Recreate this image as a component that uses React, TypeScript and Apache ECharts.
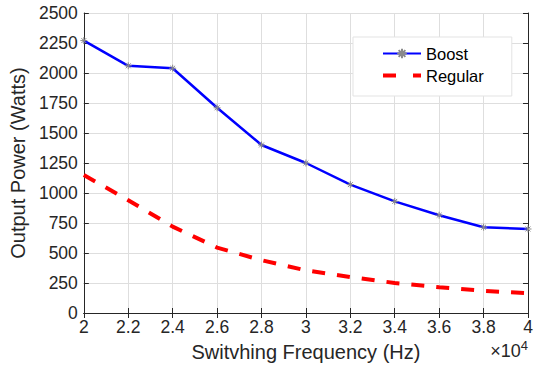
import React, { useEffect, useRef } from "react";
import * as echarts from "echarts";

const frequenciesHz = [20000, 22000, 24000, 26000, 28000, 30000, 32000, 34000, 36000, 38000, 40000];
const boostWatts = [2270, 2060, 2040, 1710, 1400, 1250, 1070, 930, 815, 715, 700];
const regularWatts = [1150, 940, 720, 545, 440, 355, 300, 250, 215, 185, 165];
const seriesNames = ["Boost", "Regular"];

const FONT = "'Liberation Sans', Arial, Helvetica, sans-serif";
const TXT = "#262626";
const ASTERISK = "path://M5,0L5,10M0,5L10,5M1.5,1.5L8.5,8.5M8.5,1.5L1.5,8.5";

export default function App() {
  const ref = useRef<HTMLDivElement>(null);
  useEffect(() => {
    if (!ref.current) return;
    const chart = echarts.init(ref.current, undefined, { renderer: "svg" });
    const toX = (hz: number) => hz / 1e4;
    const axisCommon = {
      type: "value" as const,
      axisLine: { show: true, lineStyle: { color: TXT, width: 1 } },
      axisTick: { show: true, inside: true, length: 5, lineStyle: { color: TXT } },
    };
    chart.setOption({
      animation: false,
      backgroundColor: "#ffffff",
      grid: { left: 80, right: 9, top: 13, bottom: 54, containLabel: false },
      legend: {
        left: 353,
        top: 37,
        orient: "vertical",
        data: [
          { name: seriesNames[0] },
          { name: seriesNames[1], itemStyle: { opacity: 0 }, lineStyle: { type: [13, 17], width: 4, color: "#ff0000" } },
        ],
        backgroundColor: "#ffffff",
        borderColor: "#e3e3e3",
        borderWidth: 1,
        padding: [8, 28, 12, 28],
        itemWidth: 38,
        itemHeight: 12,
        itemGap: 5,
        textStyle: { fontFamily: FONT, fontSize: 16.5, color: "#000" },
      },
      xAxis: [
        {
          ...axisCommon,
          position: "bottom",
          min: 2,
          max: 4,
          interval: 0.2,
          axisLabel: {
            fontFamily: FONT,
            fontSize: 17.5,
            color: TXT,
            margin: 5,
            formatter: (v: number) => String(Math.round(v * 10) / 10),
          },
          splitLine: { show: true, lineStyle: { color: "#dedede", width: 1 } },
          name: "Switvhing Frequency (Hz)",
          nameLocation: "middle",
          nameGap: 29,
          nameTextStyle: { fontFamily: FONT, fontSize: 20, color: TXT },
        },
        {
          ...axisCommon,
          position: "top",
          min: 2,
          max: 4,
          interval: 0.2,
          axisLabel: { show: false },
          splitLine: { show: false },
        },
      ],
      yAxis: [
        {
          ...axisCommon,
          position: "left",
          min: 0,
          max: 2500,
          interval: 250,
          axisLabel: { fontFamily: FONT, fontSize: 17.5, color: TXT, margin: 6, formatter: (v: number) => String(v) },
          splitLine: { show: true, lineStyle: { color: "#dedede", width: 1 } },
          name: "Output Power (Watts)",
          nameLocation: "middle",
          nameGap: 37,
          nameTextStyle: { fontFamily: FONT, fontSize: 20, color: TXT },
        },
        {
          ...axisCommon,
          position: "right",
          min: 0,
          max: 2500,
          interval: 250,
          axisLabel: { show: false },
          splitLine: { show: false },
        },
      ],
      graphic: [
        {
          type: "text",
          right: 9,
          top: 339,
          style: {
            text: "×10{sup|4}",
            fontFamily: FONT,
            fontSize: 18,
            fill: TXT,
            rich: { sup: { fontSize: 13, verticalAlign: "top", padding: [0, 0, 10, 0], fontFamily: FONT, fill: TXT } },
          },
        },
      ],
      series: [
        {
          name: seriesNames[0],
          type: "line",
          data: frequenciesHz.map((f, i) => [toX(f), boostWatts[i]]),
          symbol: ASTERISK,
          symbolSize: 7,
          showSymbol: true,
          itemStyle: { color: "#0000ff", borderColor: "#8a8a8a", borderWidth: 1 },
          lineStyle: { color: "#0000ff", width: 2.5 },
          z: 3,
        },
        {
          name: seriesNames[1],
          type: "line",
          data: frequenciesHz.map((f, i) => [toX(f), regularWatts[i]]),
          symbol: "none",
          itemStyle: { color: "#ff0000" },
          lineStyle: { color: "#ff0000", width: 4, type: [13, 12] },
          z: 2,
        },
      ],
    });
    return () => chart.dispose();
  }, []);
  return <div ref={ref} style={{ width: 537, height: 367, position: "absolute", left: 0, top: 0 }} />;
}
